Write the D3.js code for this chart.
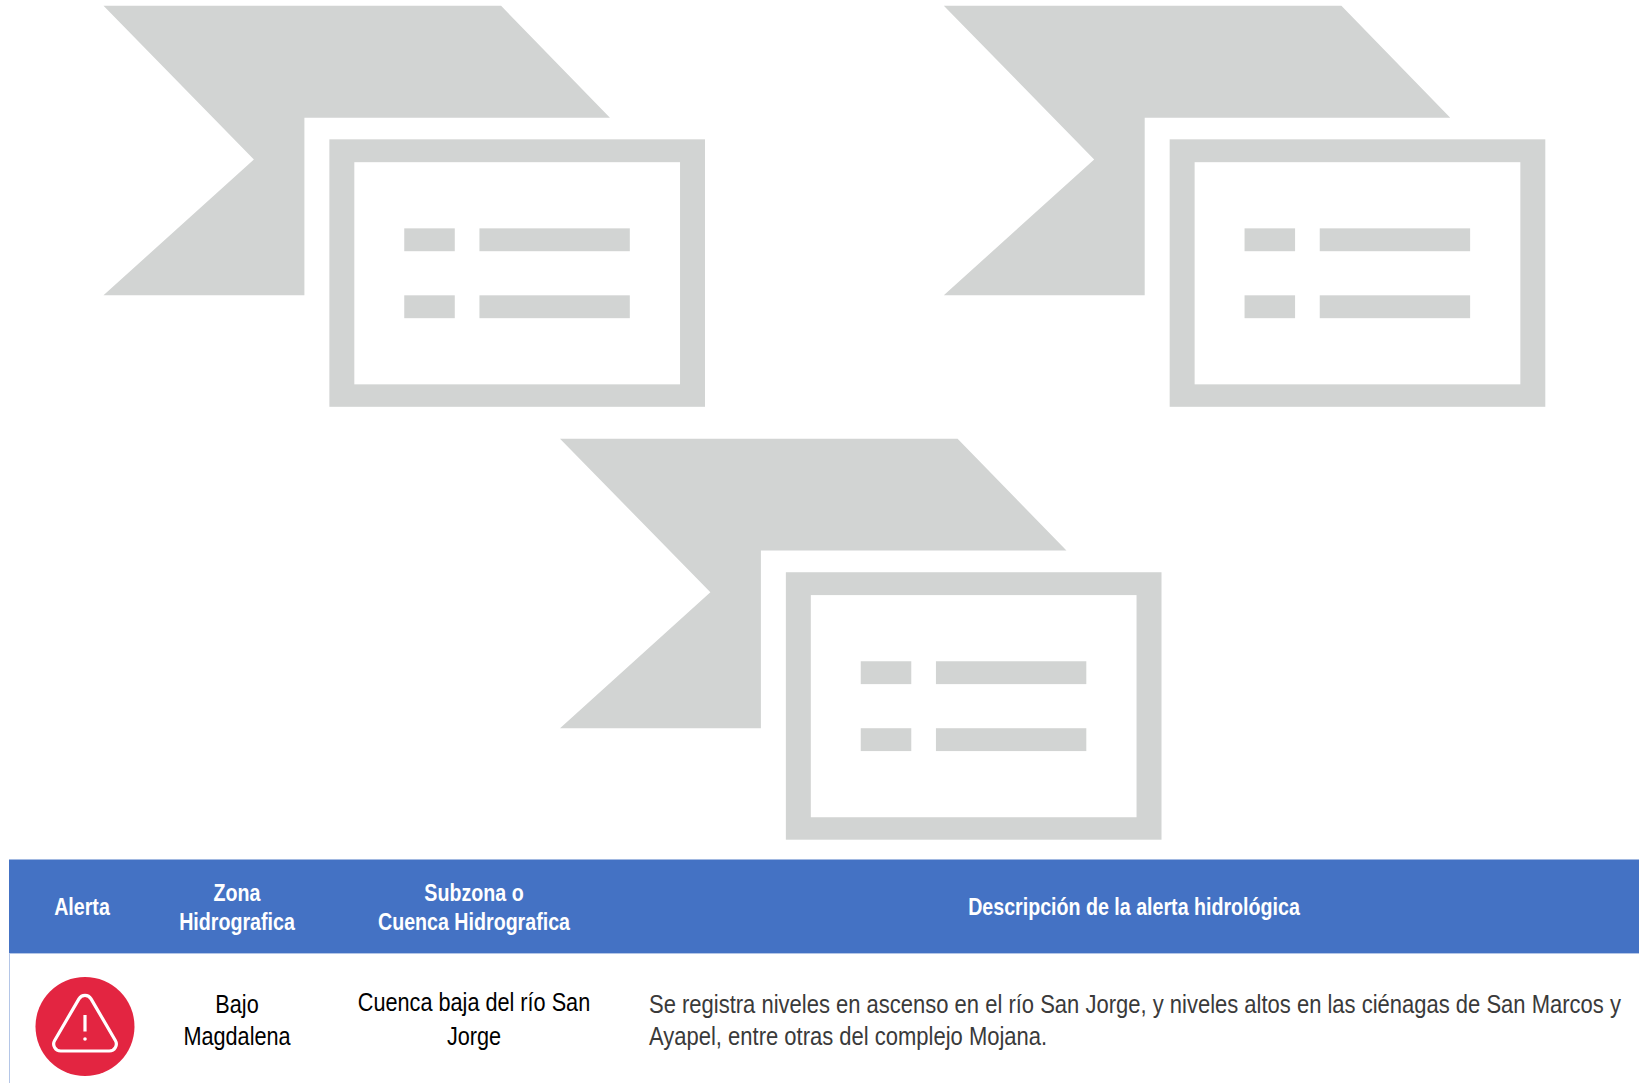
<!DOCTYPE html>
<html>
<head>
<meta charset="utf-8">
<script src="https://cdn.jsdelivr.net/npm/d3@7"></script>
<style>
  html, body { margin: 0; padding: 0; background: #fff; overflow: hidden; }
  text { font-family: "Liberation Sans", Arial, sans-serif; }
</style>
</head>
<body>
<svg id="vis"></svg>
<script>
// table content
const headers = [["Alerta"], ["Zona", "Hidrografica"], ["Subzona o", "Cuenca Hidrografica"], ["Descripción de la alerta hidrológica"]];
const zones = ["Bajo", "Magdalena"];
const basins = ["Cuenca baja del río San", "Jorge"];
const descriptions = ["Se registra niveles en ascenso en el río San Jorge, y niveles altos en las ciénagas de San Marcos y", "Ayapel, entre otras del complejo Mojana."];
const columns = ["alerta", "zona", "subzona", "descripcion"];

// placeholder icon, in its own units (0-100 across and down)
const flagShape = [[0, 0], [66.1, 0], [84.2, 27.9], [33.4, 27.9], [33.4, 72.2], [0, 72.2], [25, 38.3]];
const frameOuter = [37.55, 33.3, 100, 100];
const frameInner = [41.7, 39, 95.85, 94.4];
const lines = [[50, 55.5, 58.4, 61.2], [62.5, 55.5, 87.5, 61.2], [50, 72.2, 58.4, 77.9], [62.5, 72.2, 87.5, 77.9]];
const icons = ["izquierda", "derecha", "centro"];

const width = 1639, height = 1083;
const grey = "#d2d4d3";

const svg = d3.select("#vis").attr("width", width).attr("height", height).style("display", "block");

const iconX = d3.scaleOrdinal().domain(icons).range([103.5, 943.8, 560]);
const iconY = d3.scaleOrdinal().domain(icons).range([5.8, 5.8, 438.7]);
const x = d3.scaleLinear().domain([0, 100]).range([0, 601.5]);
const y = d3.scaleLinear().domain([0, 100]).range([0, 401]);

const flagLine = d3.line().x(d => x(d[0])).y(d => y(d[1])).curve(d3.curveLinearClosed);

const icon = svg.selectAll("g.icon")
  .data(icons)
  .join("g")
  .attr("class", "icon")
  .attr("transform", d => `translate(${iconX(d)},${iconY(d)})`);

icon.append("path").attr("d", flagLine(flagShape)).attr("fill", grey);

icon.append("rect")
  .attr("x", x(frameOuter[0])).attr("y", y(frameOuter[1]))
  .attr("width", x(frameOuter[2] - frameOuter[0])).attr("height", y(frameOuter[3] - frameOuter[1]))
  .attr("fill", grey);
icon.append("rect")
  .attr("x", x(frameInner[0])).attr("y", y(frameInner[1]))
  .attr("width", x(frameInner[2] - frameInner[0])).attr("height", y(frameInner[3] - frameInner[1]))
  .attr("fill", "#fff");

icon.selectAll("rect.line")
  .data(lines)
  .join("rect")
  .attr("class", "line")
  .attr("x", d => x(d[0])).attr("y", d => y(d[1]))
  .attr("width", d => x(d[2] - d[0])).attr("height", d => y(d[3] - d[1]))
  .attr("fill", grey);

// table
const colX = d3.scaleOrdinal().domain(columns).range([82, 237, 474, 1134]);
const headTop = 859.5, headBottom = 953;

svg.append("rect")
  .attr("x", 9).attr("y", headTop)
  .attr("width", width - 9).attr("height", headBottom - headTop)
  .attr("fill", "#4472c4");
svg.append("line")
  .attr("x1", 9).attr("x2", width).attr("y1", headBottom + 0.5).attr("y2", headBottom + 0.5)
  .attr("stroke", "#b4c6e7").attr("stroke-width", 1);
svg.append("line")
  .attr("x1", 9.5).attr("x2", 9.5).attr("y1", headBottom).attr("y2", height)
  .attr("stroke", "#b4c6e7").attr("stroke-width", 1);

// the reference text is a squeezed Arial, fit one long line of each kind and reuse the factor
function squeeze(str, size, weight, target) {
  const t = svg.append("text").attr("font-size", size).attr("font-weight", weight).text(str);
  const s = target / t.node().getComputedTextLength();
  t.remove();
  return s;
}
const headSize = 23, bodySize = 26;
const headScale = squeeze(headers[3][0], headSize, "bold", 332);
const bodyScale = squeeze(descriptions[0], bodySize, "normal", 972);

function putText(str, px, py, opts) {
  svg.append("text")
    .attr("transform", `translate(${px},${py}) scale(${opts.scale},1)`)
    .attr("text-anchor", opts.anchor || "middle")
    .attr("font-size", opts.size)
    .attr("font-weight", opts.weight || "normal")
    .attr("fill", opts.fill)
    .text(str);
}

const headOpts = { scale: headScale, size: headSize, weight: "bold", fill: "#fff" };
headers.forEach((h, i) => {
  const ys = h.length === 1 ? [915] : [901, 930];
  h.forEach((s, j) => putText(s, colX(columns[i]), ys[j], headOpts));
});

const cellOpts = { scale: bodyScale * 0.985, size: bodySize, fill: "#000" };
zones.forEach((s, j) => putText(s, colX("zona"), [1013, 1045][j], cellOpts));
basins.forEach((s, j) => putText(s, colX("subzona"), [1011, 1045][j], cellOpts));
descriptions.forEach((s, j) => putText(s, 649, [1013, 1045][j], { scale: bodyScale, size: bodySize, fill: "#3a3a3a", anchor: "start" }));

// alert badge
const badge = svg.append("g").attr("transform", "translate(85,1026.5)");
badge.append("ellipse").attr("rx", 49.5).attr("ry", 49.5).attr("fill", "#e32541");

const tri = [[0, -38], [36.5, 24.5], [-36.5, 24.5]];
const r = 7;
const p = d3.path();
p.moveTo((tri[2][0] + tri[0][0]) / 2, (tri[2][1] + tri[0][1]) / 2);
p.arcTo(tri[0][0], tri[0][1], tri[1][0], tri[1][1], r);
p.arcTo(tri[1][0], tri[1][1], tri[2][0], tri[2][1], r);
p.arcTo(tri[2][0], tri[2][1], tri[0][0], tri[0][1], r);
p.closePath();
badge.append("path").attr("d", p.toString()).attr("fill", "none").attr("stroke", "#fff").attr("stroke-width", 3.2);
badge.append("line").attr("x1", 0).attr("x2", 0).attr("y1", -11.5).attr("y2", 5)
  .attr("stroke", "#fff").attr("stroke-width", 3.2);
badge.append("circle").attr("cy", 12.5).attr("r", 1.8).attr("fill", "#fff");
</script>
</body>
</html>
